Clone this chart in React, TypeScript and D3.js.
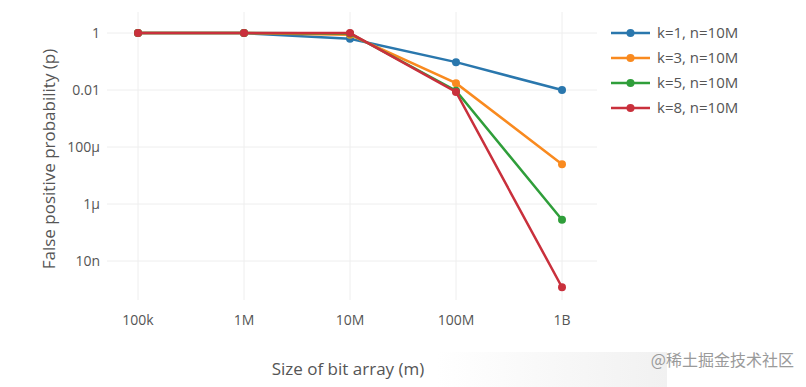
import React, { useEffect, useRef } from "react";
import * as d3 from "d3";

const sizes = [1e5, 1e6, 1e7, 1e8, 1e9];
const xTickLabels = ["100k", "1M", "10M", "100M", "1B"];
const yTicks = [1, 1e-2, 1e-4, 1e-6, 1e-8];
const yTickLabels = ["1", "0.01", "100µ", "1µ", "10n"];

const seriesNames = ["k=1, n=10M", "k=3, n=10M", "k=5, n=10M", "k=8, n=10M"];
const k1 = [1, 0.99, 0.63, 0.095, 0.00995];
const k3 = [1, 1, 0.86, 0.0174, 2.5e-5];
const k5 = [1, 1, 0.97, 0.0094, 2.8e-7];
const k8 = [1, 1, 0.997, 0.0085, 1.2e-9];
const seriesValues = [k1, k3, k5, k8];
const colors = ["#2a77ad", "#f98a1f", "#2f9e3a", "#c9303c"];

const App: React.FC = () => {
  const ref = useRef<SVGSVGElement>(null);

  useEffect(() => {
    const svg = d3.select(ref.current);
    svg.selectAll("*").remove();
    const font = "'Open Sans', sans-serif";
    const textColor = "#555";

    const left = 107, right = 597, top = 12, bottom = 300;

    const x = d3.scaleLog().domain([1e5, 1e9]).range([138, 562]);
    const y = d3.scaleLog().domain([1, 1e-8]).range([33, 261]);

    // watermark background
    const defs = svg.append("defs");
    const grad = defs.append("linearGradient").attr("id", "wm");
    grad.append("stop").attr("offset", "0%").attr("stop-color", "#ffffff");
    grad.append("stop").attr("offset", "100%").attr("stop-color", "#f1f1f1");
    svg.append("rect")
      .attr("x", 437).attr("y", 352)
      .attr("width", 230).attr("height", 35)
      .attr("fill", "url(#wm)");

    // grid
    svg.append("g")
      .selectAll("line")
      .data(sizes)
      .enter()
      .append("line")
      .attr("x1", (d) => x(d)).attr("x2", (d) => x(d))
      .attr("y1", top).attr("y2", bottom)
      .attr("stroke", "#eeeeee").attr("stroke-width", 1);

    svg.append("g")
      .selectAll("line")
      .data(yTicks)
      .enter()
      .append("line")
      .attr("x1", left).attr("x2", right)
      .attr("y1", (d) => y(d)).attr("y2", (d) => y(d))
      .attr("stroke", "#eeeeee").attr("stroke-width", 1);

    // tick labels
    svg.append("g")
      .selectAll("text")
      .data(yTicks)
      .enter()
      .append("text")
      .attr("x", 100)
      .attr("y", (d) => y(d))
      .attr("dy", "0.35em")
      .attr("text-anchor", "end")
      .attr("font-family", font)
      .attr("font-size", 14)
      .attr("fill", textColor)
      .text((d, i) => yTickLabels[i]);

    svg.append("g")
      .selectAll("text")
      .data(sizes)
      .enter()
      .append("text")
      .attr("x", (d) => x(d))
      .attr("y", 320)
      .attr("dy", "0.35em")
      .attr("text-anchor", "middle")
      .attr("font-family", font)
      .attr("font-size", 14)
      .attr("fill", textColor)
      .text((d, i) => xTickLabels[i]);

    // axis titles
    svg.append("text")
      .attr("transform", "translate(49,159) rotate(-90)")
      .attr("text-anchor", "middle")
      .attr("dy", "0.35em")
      .attr("font-family", font)
      .attr("font-size", 17)
      .attr("fill", textColor)
      .text("False positive probability (p)");

    svg.append("text")
      .attr("x", 348)
      .attr("y", 369)
      .attr("dy", "0.35em")
      .attr("text-anchor", "middle")
      .attr("font-family", font)
      .attr("font-size", 17)
      .attr("fill", textColor)
      .text("Size of bit array (m)");

    // lines
    const line = d3
      .line<number>()
      .x((d, i) => x(sizes[i]))
      .y((d) => y(d));

    seriesValues.forEach((vals, s) => {
      const g = svg.append("g");
      g.append("path")
        .datum(vals)
        .attr("d", line)
        .attr("fill", "none")
        .attr("stroke", colors[s])
        .attr("stroke-width", 2.5);
      g.selectAll("circle")
        .data(vals)
        .enter()
        .append("circle")
        .attr("cx", (d, i) => x(sizes[i]))
        .attr("cy", (d) => y(d))
        .attr("r", 4)
        .attr("fill", colors[s]);
    });

    // legend
    const legend = svg.append("g");
    seriesNames.forEach((name, i) => {
      const ly = 33 + i * 25;
      legend.append("line")
        .attr("x1", 611).attr("x2", 650)
        .attr("y1", ly).attr("y2", ly)
        .attr("stroke", colors[i]).attr("stroke-width", 2.5);
      legend.append("circle")
        .attr("cx", 630.5).attr("cy", ly).attr("r", 4)
        .attr("fill", colors[i]);
      legend.append("text")
        .attr("x", 657).attr("y", ly)
        .attr("dy", "0.35em")
        .attr("font-family", font)
        .attr("font-size", 15)
        .attr("fill", textColor)
        .text(name);
    });

    // watermark
    svg.append("text")
      .attr("x", 794)
      .attr("y", 360)
      .attr("dy", "0.35em")
      .attr("text-anchor", "end")
      .attr("font-family", "'Noto Sans CJK SC', sans-serif")
      .attr("font-size", 16)
      .attr("fill", "#9a9a9a")
      .text("@稀土掘金技术社区");
  }, []);

  return (
    <svg
      ref={ref}
      width={806}
      height={387}
      style={{ position: "absolute", left: 0, top: 0, background: "#fff" }}
    />
  );
};

export default App;
